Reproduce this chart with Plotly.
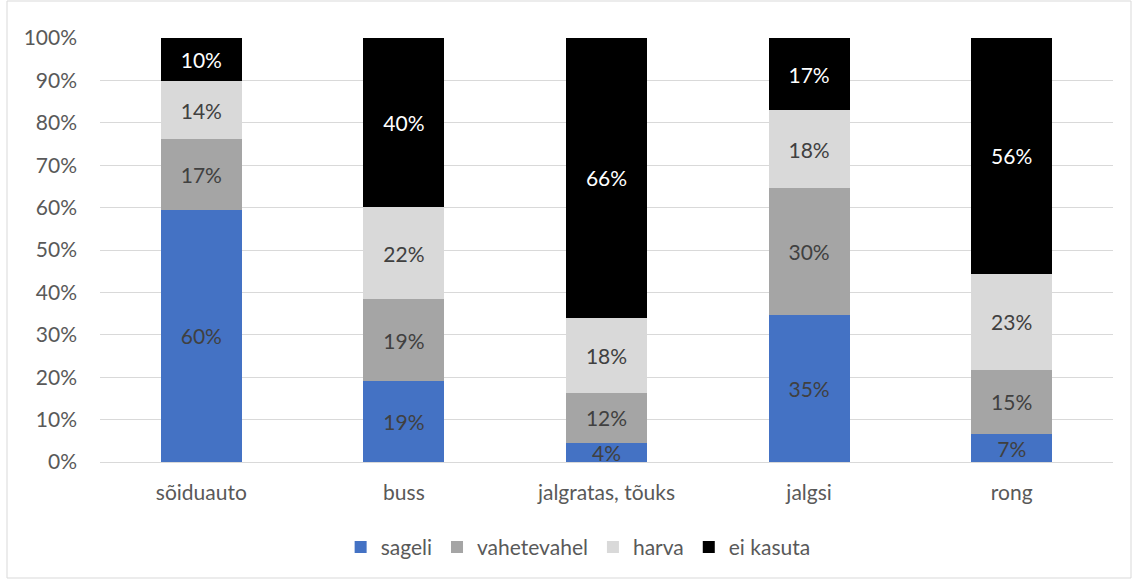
import plotly.graph_objects as go

categories = ["sõiduauto", "buss", "jalgratas, tõuks", "jalgsi", "rong"]
sageli = [59.5, 19.1, 4.5, 34.7, 6.6]
vahetevahel = [16.6, 19.3, 11.8, 29.9, 15.2]
harva = [13.7, 21.7, 17.7, 18.4, 22.6]
ei_kasuta = [10.2, 39.9, 66.0, 17.0, 55.6]

series = [
    ("sageli", sageli, "#4472C4", "#404040"),
    ("vahetevahel", vahetevahel, "#A5A5A5", "#404040"),
    ("harva", harva, "#D9D9D9", "#404040"),
    ("ei kasuta", ei_kasuta, "#000000", "#FFFFFF"),
]

FONT = "Lato, Open Sans, sans-serif"
FS = 21
fig = go.Figure()
for name, vals, color, tcolor in series:
    fig.add_trace(go.Bar(
        name=name, x=categories, y=[v / 100 for v in vals],
        marker=dict(color=color, line=dict(width=0)),
        text=[f"{round(v):.0f}%" for v in vals],
        textposition="inside", insidetextanchor="middle",
        textfont=dict(color=tcolor, size=FS, family=FONT),
        constraintext="none",
        width=0.4,
    ))

W, H = 1132, 579
ml, mr, mt, mb = 100, 19, 38, 117
fig.update_layout(
    barmode="stack",
    width=W, height=H,
    margin=dict(l=ml, r=mr, t=mt, b=mb, autoexpand=False),
    paper_bgcolor="white", plot_bgcolor="white",
    font=dict(family=FONT, size=FS, color="#595959"),
    uniformtext=dict(mode=False),
    showlegend=True,
    legend=dict(orientation="h", x=0.472, xanchor="center", y=-0.153, yanchor="top",
                font=dict(size=FS, color="#595959"), traceorder="normal",
                itemwidth=30),
    xaxis=dict(showgrid=False, showline=True, linecolor="#D9D9D9", linewidth=1,
               ticks="", ticklabelstandoff=12, tickfont=dict(size=FS, color="#595959")),
    yaxis=dict(range=[0, 1], tickformat=".0%", dtick=0.1, showgrid=True,
               gridcolor="#D9D9D9", gridwidth=1, zeroline=False, showline=False,
               ticks="", ticklabelstandoff=22, tickfont=dict(size=FS, color="#595959")),
)
pw = W - ml - mr
ph = H - mt - mb
fig.add_shape(type="rect", xref="paper", yref="paper",
              x0=(7 - ml) / pw, x1=(W - 1 - ml) / pw,
              y0=-(H - 1 - mt - ph) / ph, y1=1 + (mt - 1) / ph,
              line=dict(color="#D9D9D9", width=1), layer="below")
fig.write_html("out.html", config={"displayModeBar": False},
               post_script="document.body.style.margin='0';document.body.style.overflow='hidden';")
